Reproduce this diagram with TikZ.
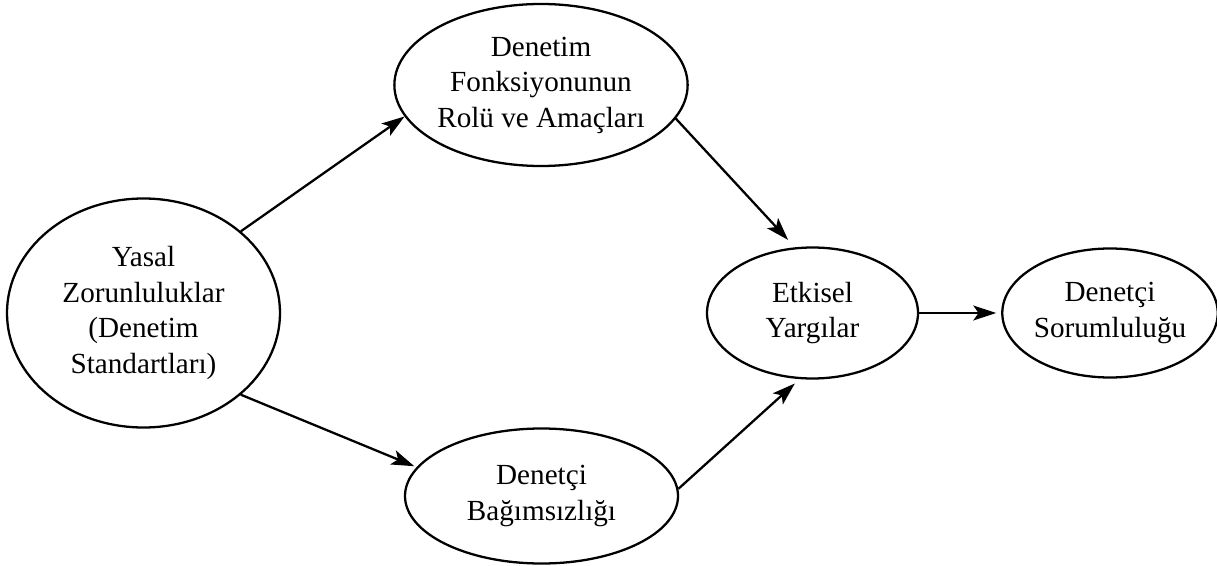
\documentclass[tikz,border=0pt]{standalone}
\usepackage{fontspec}
\setmainfont{Liberation Serif}
\usetikzlibrary{shapes.geometric,positioning,arrows.meta}
\begin{document}
\begin{tikzpicture}[on grid, main/.style = {draw, ellipse, line width=1.3pt, inner sep=0pt, align=center, font=\fontsize{16.6}{20.2}\selectfont}, arr/.style = {-{Stealth[length=13pt, width=8.5pt, inset=3pt]}, line width=1.3pt}]
\useasboundingbox (0,0) rectangle (24.34,-11.32);
\node[main, minimum width=5.46cm, minimum height=4.58cm] (yasal) at (2.87,-6.26) {Yasal\\Zorunluluklar\\(Denetim\\Standartları)};
\node[main, minimum width=4.22cm, minimum height=2.62cm] (etk) [right=13.38cm of yasal] {Etkisel\\Yargılar};
\node[main, minimum width=4.2cm, minimum height=2.58cm] (sorum) [right=5.95cm of etk] {Denetçi\\Sorumluluğu};
\node[main, minimum width=5.48cm, minimum height=3.24cm] (rol) [above left=4.56cm and 5.43cm of etk] {Denetim\\Fonksiyonunun\\Rolü ve Amaçları};
\node[main, minimum width=5.46cm, minimum height=2.7cm] (bag) [below left=3.66cm and 5.42cm of etk] {Denetçi\\Bağımsızlığı};

\draw[arr] (yasal.40) -- (rol.193);
\draw[arr, shorten >=0.05cm] (yasal.-40) -- (bag.167);
\draw[arr, shorten >=0.2cm] (rol.-14) -- (etk.105);
\draw[arr, shorten >=0.13cm] (bag.3) -- (etk.259);
\draw[arr, shorten >=0.1cm] (etk.east) -- (sorum.west);

\end{tikzpicture}
\end{document}
